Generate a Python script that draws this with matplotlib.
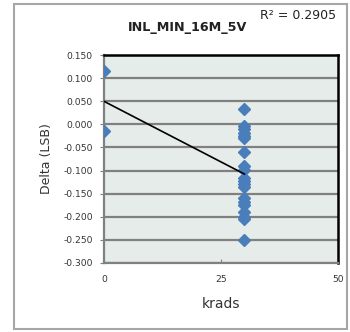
import matplotlib
matplotlib.use('Agg')
import matplotlib.pyplot as plt
import numpy as np

#====================
# Data
#====================
krads_0 = [0, 0]
delta_0 = [0.115, -0.015]
krads_30 = [30] * 20
delta_30 = [0.033, -0.003, -0.010, -0.018, -0.025, -0.030, -0.060, -0.090,
            -0.098, -0.115, -0.122, -0.130, -0.135, -0.160, -0.168, -0.175,
            -0.190, -0.200, -0.205, -0.250]
y_ticks = [0.150, 0.100, 0.050, 0.000, -0.050, -0.100, -0.150, -0.200, -0.250, -0.300]
x_ticks = [0, 25, 50]

x = np.array(krads_0 + krads_30, dtype=float)
y = np.array(delta_0 + delta_30)

plt.rcParams['font.family'] = ['DejaVu Sans']

fig = plt.figure(figsize=(3.5, 3.32), dpi=100)
ax = fig.add_axes([0.297, 0.208, 0.669, 0.626])

# outer chart border
fig.patches.append(plt.Rectangle((0.04, 0.01), 0.952, 0.978, transform=fig.transFigure,
                                 fill=False, edgecolor='#a6a6a6', linewidth=1.5))

ax.set_facecolor('#e6ecea')
ax.set_xlim(0, 50)
ax.set_ylim(-0.300, 0.150)
ax.set_yticks(y_ticks)
ax.set_yticklabels(['%.3f' % v for v in y_ticks], fontsize=6.6, color='#333333')
ax.set_xticks(x_ticks)
ax.set_xticklabels([str(v) for v in x_ticks], fontsize=6.6, color='#333333')
ax.tick_params(axis='y', length=3, color='#808080', pad=5)
ax.tick_params(axis='x', length=3, direction='in', color='#808080', pad=9)
ax.yaxis.grid(True, color='#808080', linewidth=1.6)
ax.set_axisbelow(True)

for side in ['left', 'bottom']:
    ax.spines[side].set_color('#808080')
    ax.spines[side].set_linewidth(1.6)
for side in ['top', 'right']:
    ax.spines[side].set_color('black')
    ax.spines[side].set_linewidth(1.8)

# data points
ax.plot(x, y, linestyle='none', marker='D', markersize=6.5, color='#4a7ebb', zorder=3)

# linear trendline over data range
slope, intercept = np.polyfit(x, y, 1)
xs = np.array([x.min(), x.max()])
ax.plot(xs, slope * xs + intercept, color='black', linewidth=1.2, zorder=4)

ax.set_xlabel('krads', fontsize=10, color='#333333', labelpad=9)
ax.set_ylabel('Delta (LSB)', fontsize=9, color='#333333', labelpad=7)

fig.text(0.537, 0.918, 'INL_MIN_16M_5V', ha='center', va='center',
         fontsize=9.2, fontweight='bold', color='#222222')
fig.text(0.743, 0.953, 'R² = 0.2905', ha='left', va='center',
         fontsize=9, color='#222222')

fig.savefig('out.png', dpi=100)
